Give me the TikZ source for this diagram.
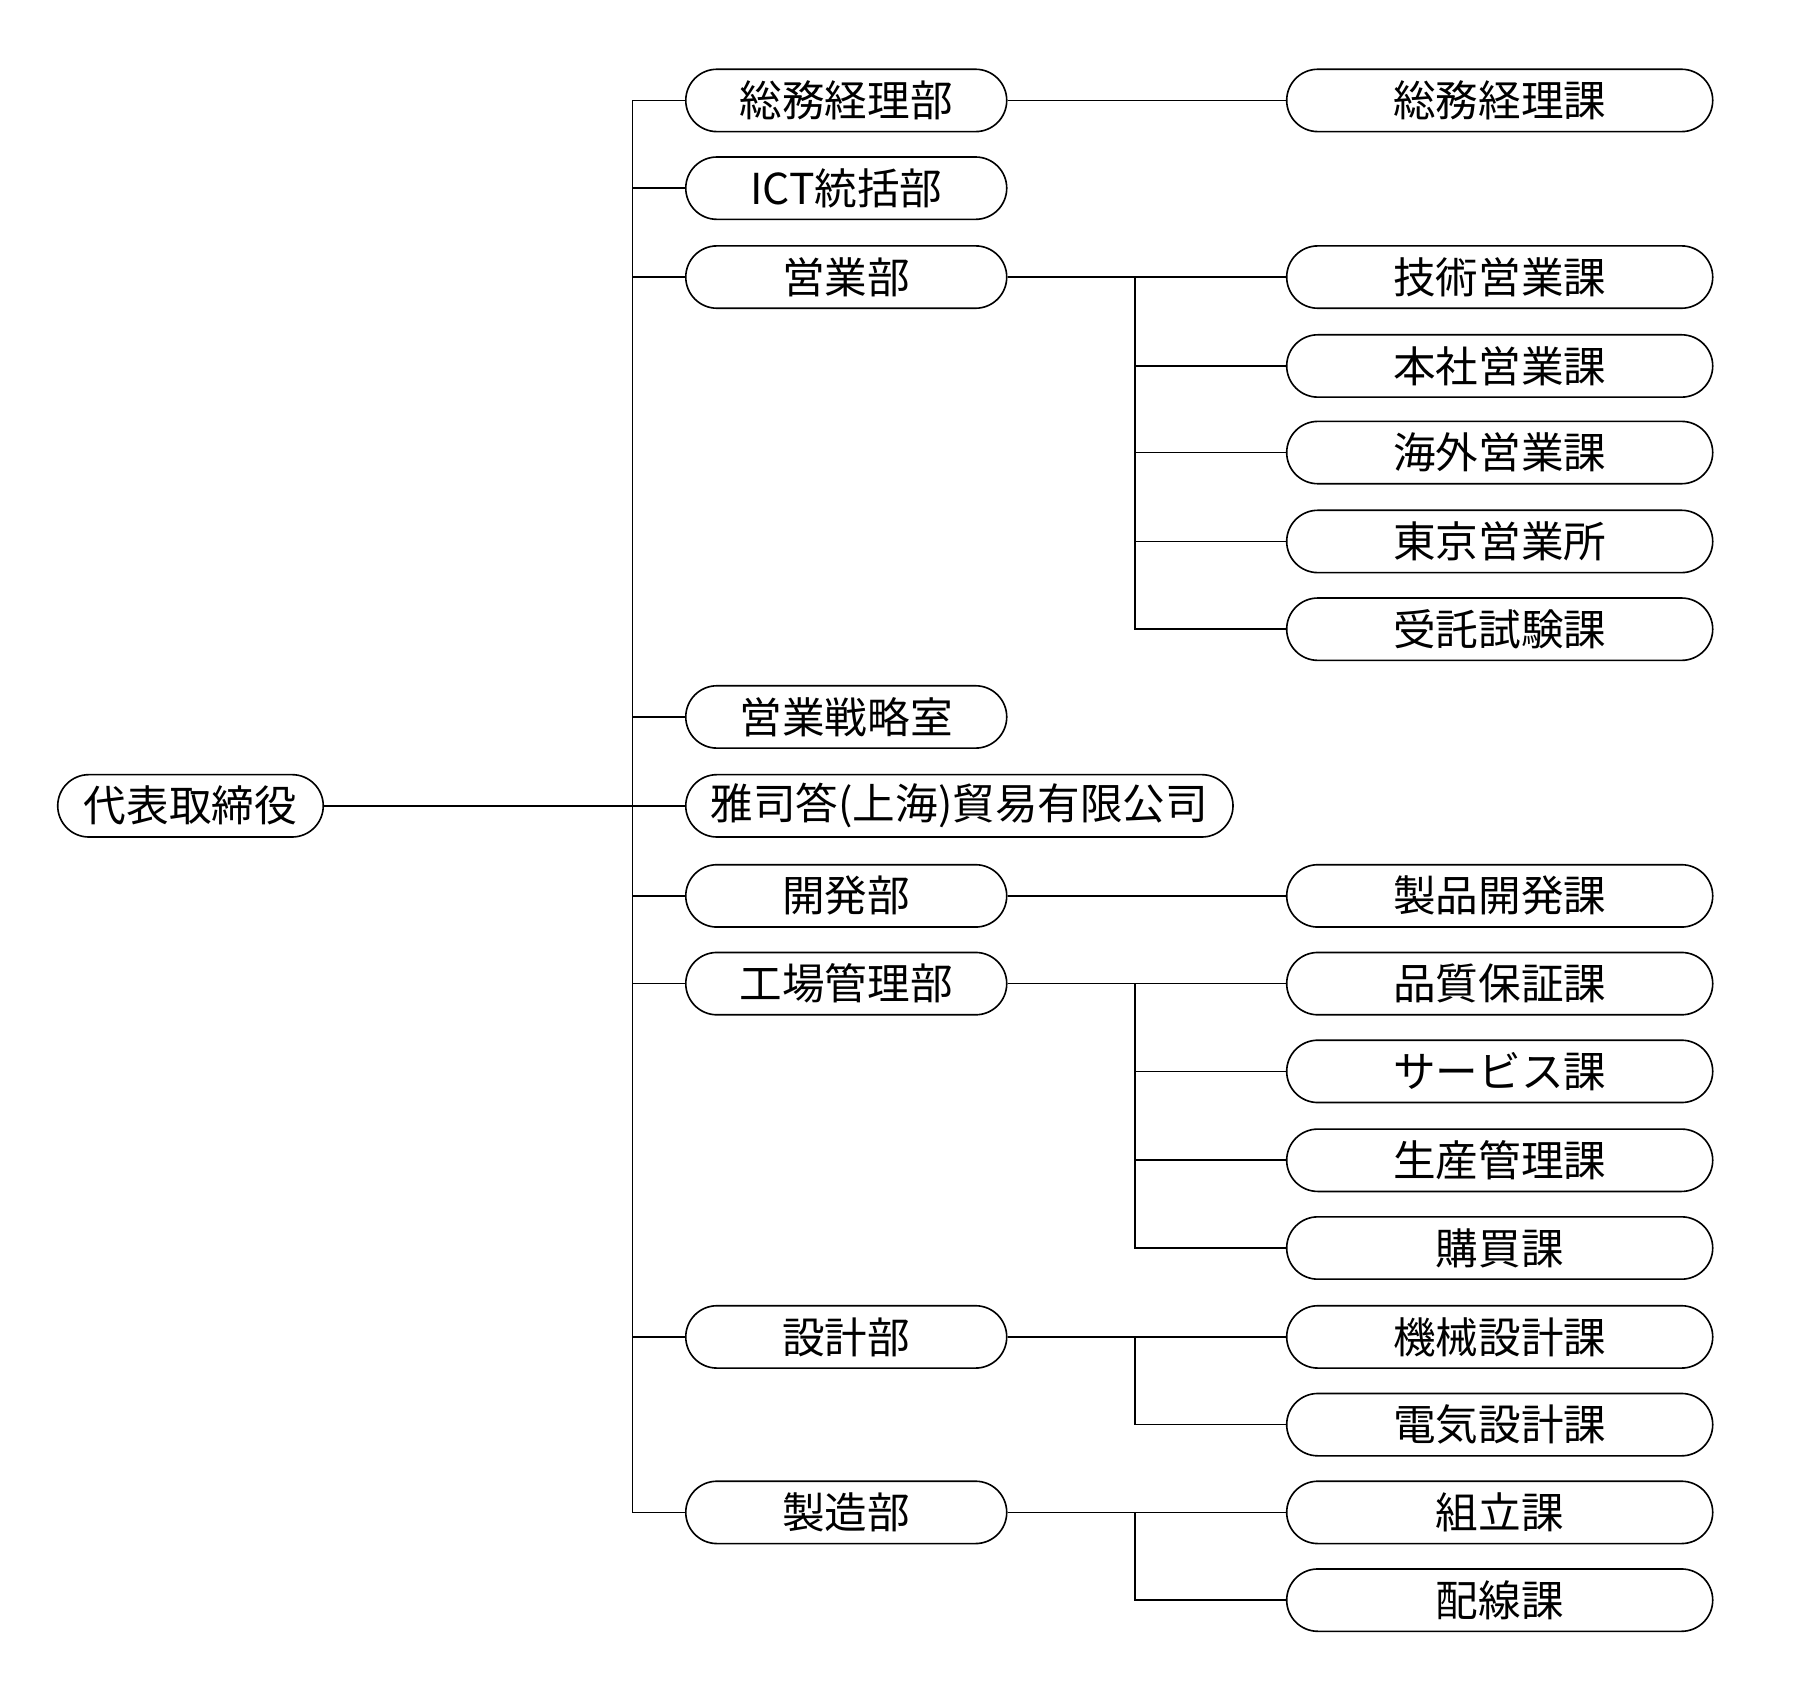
\documentclass[tikz,border=0pt]{standalone}
\usepackage{fontspec}
\setmainfont{Noto Sans CJK JP}
\usetikzlibrary{shapes.misc}

\begin{document}
\begin{tikzpicture}[thin, every node/.style={font=\fontsize{10.5}{12}\selectfont},
    box/.style={rounded rectangle, draw, minimum height=0.54cm, inner sep=0pt},
    bu/.style={box, minimum width=2.78cm},
    ka/.style={box, minimum width=3.69cm}]
    \useasboundingbox (0,0) rectangle (15.60,-14.73);
    % top
    \node[box, minimum width=2.30cm] (ceo) at (1.65,-6.98) {代表取締役};

    % departments
    \node[bu] (soumu) at (7.33,-0.87) {総務経理部};
    \node[bu] (ict) at (7.33,-1.63) {ICT統括部};
    \node[bu] (eigyo) at (7.33,-2.40) {営業部};
    \node[bu] (senryaku) at (7.33,-6.21) {営業戦略室};
    \node[box, minimum width=4.74cm] (shanghai) at (8.31,-6.98) {雅司答(上海)貿易有限公司};
    \node[bu] (kaihatsu) at (7.33,-7.76) {開発部};
    \node[bu] (kojo) at (7.33,-8.52) {工場管理部};
    \node[bu] (sekkei) at (7.33,-11.58) {設計部};
    \node[bu] (seizo) at (7.33,-13.10) {製造部};

    % sections
    \node[ka] (soumuka) at (12.99,-0.87) {総務経理課};
    \node[ka] (gijutsu) at (12.99,-2.40) {技術営業課};
    \node[ka] (honsha) at (12.99,-3.17) {本社営業課};
    \node[ka] (kaigai) at (12.99,-3.92) {海外営業課};
    \node[ka] (tokyo) at (12.99,-4.69) {東京営業所};
    \node[ka] (juitaku) at (12.99,-5.45) {受託試験課};
    \node[ka] (seihin) at (12.99,-7.76) {製品開発課};
    \node[ka] (hinshitsu) at (12.99,-8.52) {品質保証課};
    \node[ka] (service) at (12.99,-9.28) {サービス課};
    \node[ka] (seisan) at (12.99,-10.05) {生産管理課};
    \node[ka] (kobai) at (12.99,-10.81) {購買課};
    \node[ka] (kikai) at (12.99,-11.58) {機械設計課};
    \node[ka] (denki) at (12.99,-12.34) {電気設計課};
    \node[ka] (kumitate) at (12.99,-13.10) {組立課};
    \node[ka] (haisen) at (12.99,-13.86) {配線課};

    % trunk
    \coordinate (t) at (5.48,0);
    \coordinate (s) at (9.83,0);
    \draw (ceo.east) -- (shanghai.west);
    \draw (soumu.west) -- (soumu.west -| t) -- (seizo.west -| t) -- (seizo.west);
    \foreach \d in {ict, eigyo, senryaku, kaihatsu, kojo, sekkei}
        \draw (\d.west) -- (\d.west -| t);

    % branches
    \draw (soumu.east) -- (soumuka.west);
    \draw (kaihatsu.east) -- (seihin.west);
    \draw (eigyo.east) -- (gijutsu.west);
    \draw (gijutsu.west -| s) |- (juitaku.west);
    \foreach \k in {honsha, kaigai, tokyo}
        \draw (\k.west) -- (\k.west -| s);
    \draw (kojo.east) -- (hinshitsu.west);
    \draw (hinshitsu.west -| s) |- (kobai.west);
    \foreach \k in {service, seisan}
        \draw (\k.west) -- (\k.west -| s);
    \draw (sekkei.east) -- (kikai.west);
    \draw (kikai.west -| s) |- (denki.west);
    \draw (seizo.east) -- (kumitate.west);
    \draw (kumitate.west -| s) |- (haisen.west);
\end{tikzpicture}
\end{document}
